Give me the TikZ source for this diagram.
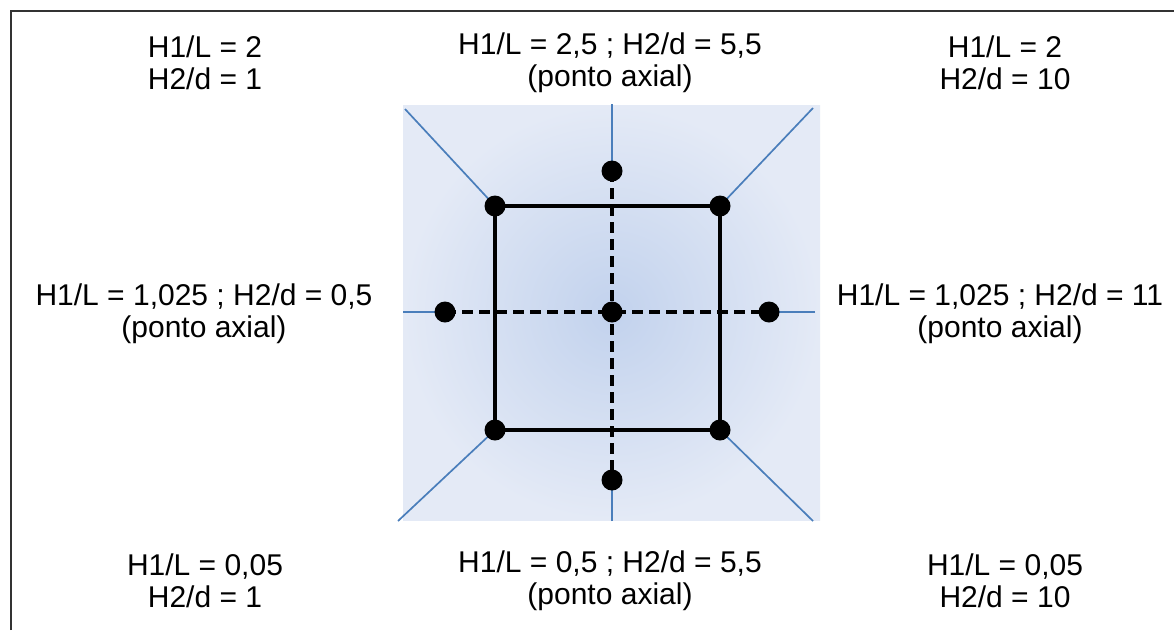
\documentclass[tikz,border=0pt]{standalone}
\usepackage{fontspec}
\setmainfont{Liberation Sans}
\begin{document}
\begin{tikzpicture}[x=1pt,y=-1pt,
  lbl/.style={align=center,font=\fontsize{30}{32}\selectfont,inner sep=0pt},
  dot/.style={circle,fill=black,minimum size=21pt,inner sep=0pt},
  ray/.style={draw=raycol,line width=1.7pt},
  axis/.style={draw=black,line width=3.4pt,dash pattern=on 11pt off 6pt},
  frame/.style={draw=black,line width=4.6pt},
  border/.style={draw=black!80,line width=1.4pt}]
\definecolor{raycol}{RGB}{74,126,187}
\definecolor{shinner}{RGB}{194,210,237}
\definecolor{shouter}{RGB}{228,234,246}
\useasboundingbox (0,0) rectangle (1174,630);
\fill[white] (0,0) rectangle (1174,630);

% open frame: left and top edges
\coordinate (b1) at (11,630);
\coordinate (b2) at (11,11);
\coordinate (b3) at (1174,11);
\draw[border] (b1) -- (b2) -- (b3);

% shaded design region
\shade[inner color=shinner,outer color=shouter] (403,105) rectangle (820,520);

% design points
\coordinate (c)  at (612,312);
\coordinate (tl) at (495,206);
\coordinate (tr) at (720,206);
\coordinate (bl) at (495,430);
\coordinate (br) at (720,430);
\coordinate (at) at (612,171);
\coordinate (ab) at (612,480);
\coordinate (al) at (445,312);
\coordinate (ar) at (769,312);

% outer ends of the rays
\coordinate (otl) at (405,109);
\coordinate (otr) at (813,108);
\coordinate (obl) at (398,521);
\coordinate (obr) at (813,521);
\coordinate (ot)  at (612,104);
\coordinate (ob)  at (612,521);
\coordinate (ol)  at (403,312);
\coordinate (or)  at (815,312);

% rays towards the region boundary
\draw[ray] (otl) -- (tl);
\draw[ray] (otr) -- (tr);
\draw[ray] (obl) -- (bl);
\draw[ray] (obr) -- (br);
\draw[ray] (ot) -- (at);
\draw[ray] (ob) -- (ab);
\draw[ray] (ol) -- (al);
\draw[ray] (or) -- (ar);

% axial lines
\draw[axis] (at) -- (ab);
\draw[axis] (al) -- (ar);

% factorial square
\draw[frame,line join=miter] (tl) -- (tr) -- (br) -- (bl) -- cycle;

% points
\foreach \p in {c,tl,tr,bl,br,at,ab,al,ar}
  \node[dot] (d\p) at (\p) {};

% labels
\node[lbl] (ltl) at (205,63) {H1/L = 2\\H2/d = 1};
\node[lbl] (ltc) at (610,63) {H1/L = 2,5 ; H2/d = 5,5\\(ponto axial)};
\node[lbl] (ltr) at (1005,63) {H1/L = 2\\H2/d = 10};
\node[lbl] (lml) at (204,314) {H1/L = 1,025 ; H2/d = 0,5\\(ponto axial)};
\node[lbl] (lmr) at (1000,314) {H1/L = 1,025 ; H2/d = 11\\(ponto axial)};
\node[lbl] (lbl) at (205,581) {H1/L = 0,05\\H2/d = 1};
\node[lbl] (lbc) at (610,581) {H1/L = 0,5 ; H2/d = 5,5\\(ponto axial)};
\node[lbl] (lbr) at (1005,581) {H1/L = 0,05\\H2/d = 10};
\end{tikzpicture}
\end{document}
